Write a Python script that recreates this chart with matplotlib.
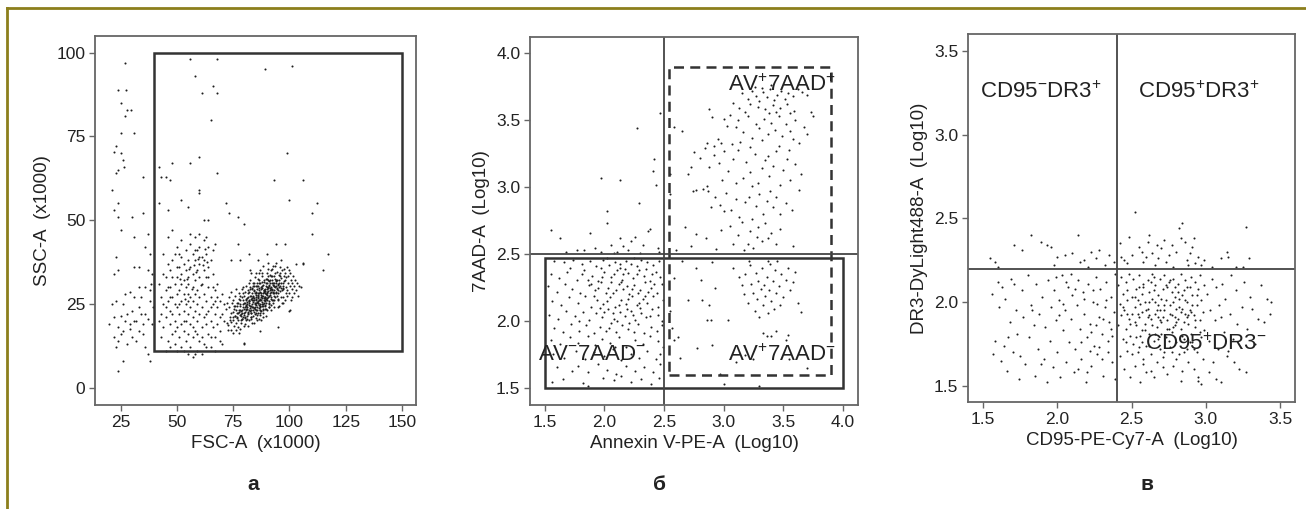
import numpy as np
import matplotlib.pyplot as plt
from matplotlib.patches import Rectangle
from matplotlib.lines import Line2D

plt.rcParams["font.family"] = ["Liberation Sans", "DejaVu Sans"]
plt.rcParams["mathtext.fontset"] = "custom"
plt.rcParams["mathtext.rm"] = "Liberation Sans"
plt.rcParams["mathtext.it"] = "Liberation Sans"

# ---------------- panel a : FSC-A vs SSC-A (x1000) ----------------
a_debris = [(27,97),(24,89),(27.5,89),(25,85),(28,83),(29.5,83),(27,81),(31,76),(25,76),(23,72),
            (25,70),(22,70.5),(26,68),(26.5,66),(24,65),(23,64),(35,63),(21,59),(24,55),(22,53),
            (30,51),(35,52),(37,46),(25,47),(24,51),(31,45),(36,42),(38,40),(23,39),(24,35),
            (22,34),(31,36),(33,36),(37,35),(39,34),(36,30),(38,29),(27,28),(29,28.5),(31,27),
            (34,27),(23,26),(26,25),(33,24),(30,23),(28,22),(36,22),(22,21),(25,21.5),(27,20),
            (31,20),(37,20.5),(39,19),(20,19),(24,18),(26,17),(29,17.5),(33,17),(35,16),(25,16),
            (22,15),(24,14),(30,15),(32,14),(28,13),(23,12),(36,12),(26,8),(38,8),(37,10),
            (24,5),(35,19),(38,26),(34,22),(21,25),(29,19),(32,20),(39.5,24),(38.5,31),(33,30)]

a_left = [(42,31),(43,27),(43,22),(44,25),(44,18),(45,29),(45,33),(45,21),(46,26),(46,14),
          (46,37),(47,23),(47,30),(47,19),(47,35),(48,27),(48,16),(48,38),(48,22),(49,31),
          (49,25),(49,13),(49,20),(50,28),(50,33),(50,18),(50,24),(50,11),(51,36),(51,29),
          (51,22),(51,15),(52,26),(52,31),(52,19),(52,34),(52,12),(53,28),(53,23),(53,37),
          (53,17),(53,32),(54,30),(54,25),(54,20),(54,35),(54,14),(55,33),(55,28),(55,22),
          (55,38),(55,16),(55,31),(56,27),(56,36),(56,24),(56,19),(56,12),(57,34),(57,30),
          (57,26),(57,40),(57,21),(57,15),(58,32),(58,38),(58,28),(58,23),(58,17),(58,10),
          (59,35),(59,41),(59,29),(59,25),(59,20),(60,37),(60,33),(60,27),(60,22),(60,14),
          (60,42),(61,39),(61,31),(61,24),(61,18),(62,44),(62,35),(62,28),(62,21),(62,13),
          (63,40),(63,33),(63,26),(63,19),(64,42),(64,36),(64,30),(64,23),(64,16),(65,38),
          (65,27),(65,20),(65,12),(66,34),(66,25),(66,18),(67,43),(67,29),(67,22),(67,15),
          (68,31),(68,24),(68,19),(69,26),(69,17),(70,22),(70,28),(70,13),(71,20),(71,25),
          (44,40),(46,45),(48,47),(50,42),(52,44),(56,46),(58,45),(60,46),(63,45),(66,41),
          (43,15),(45,11),(47,12),(49,40),(51,40),(53,11),(55,10),(57,9),(59,11),(61,10),
          (63,12),(65,15),(67,11),(69,14),(42,20),(44,34),(46,30),(48,33),(50,36),(52,39),
          (54,41),(56,43),(58,41),(60,39),(62,38),(64,33),(66,30),(68,27),(45,24),(47,27),
          (49,17),(51,25),(53,20),(55,26),(57,18),(59,16),(61,15),(63,22),(65,24),(67,26),
          (69,21),(54.5,32.5),(56.5,29.5),(58.5,34.5),(60.5,30.5),(61.5,36.5),(59.5,38.5),
          (57.5,36.5),(55.5,35.5),(53.5,26.5),(51.5,32.5),(63.5,37.5),(62.5,41.5)]

a_main = [(72.3,19.2),(71.8,23.4),(72.6,17.1),(72.1,25.3),
          (73.4,21.2),(72.9,18.6),(73.2,24.1),(73.7,20.3),(73.0,27.2),
          (74.2,22.4),(73.8,19.5),(74.5,25.2),(74.1,17.3),(74.7,21.1),(73.9,28.4),
          (75.1,22.5),(74.8,20.2),(75.4,24.3),(75.2,18.4),(74.9,26.1),(75.6,21.3),(75.3,23.5),(75.0,16.2),
          (76.2,23.1),(75.8,21.4),(76.5,25.2),(76.1,19.3),(75.9,27.4),(76.6,22.2),(76.3,17.1),(76.0,24.4),(76.4,29.3),
          (77.3,22.2),(76.8,24.3),(77.1,20.1),(77.6,26.4),(77.0,18.2),(77.4,23.3),(76.9,21.1),(77.7,28.2),(77.2,25.4),(77.5,16.3),
          (78.1,23.2),(77.8,25.1),(78.4,21.3),(78.2,27.4),(78.6,19.2),(77.9,24.3),(78.3,22.1),(78.7,29.4),(78.0,26.2),(78.5,20.3),(78.2,17.4),
          (79.2,24.2),(78.8,22.3),(79.5,26.1),(79.1,20.4),(79.4,28.3),(78.9,23.2),(79.7,25.4),(79.3,21.1),(79.0,27.2),(79.6,18.3),(79.2,30.1),(79.8,13.2),
          (80.1,24.1),(80.5,26.3),(79.9,22.2),(80.3,28.4),(80.7,20.1),(80.2,25.2),(80.6,23.4),(80.0,27.3),(80.4,21.2),(80.8,30.4),(80.1,19.1),(80.6,24.8),
          (81.2,25.1),(80.9,23.3),(81.5,27.2),(81.1,21.4),(81.7,29.1),(81.3,24.2),(80.9,26.4),(81.6,22.3),(81.4,28.2),(81.0,20.4),(81.8,31.2),(81.2,25.7),(81.5,18.3),
          (82.1,25.2),(82.5,27.4),(81.9,23.1),(82.3,29.3),(82.7,21.2),(82.0,26.1),(82.6,24.3),(82.2,28.4),(82.8,22.2),(82.4,30.1),(81.9,20.3),(82.5,32.2),(82.1,25.8),(82.3,35.1),
          (83.2,26.2),(82.9,24.4),(83.5,28.1),(83.1,22.3),(83.7,30.2),(83.3,25.1),(82.9,27.3),(83.6,23.2),(83.4,29.4),(83.0,21.1),(83.8,31.3),(83.2,26.7),(83.5,19.2),(83.1,34.1),
          (84.1,26.1),(84.5,28.3),(83.9,24.2),(84.3,30.4),(84.7,22.1),(84.0,27.2),(84.6,25.3),(84.2,29.1),(84.8,23.4),(84.4,31.2),(83.9,21.3),(84.5,33.1),(84.1,26.8),(84.3,19.4),
          (85.2,27.1),(84.9,25.2),(85.5,29.4),(85.1,23.3),(85.7,31.1),(85.3,26.2),(84.9,28.3),(85.6,24.1),(85.4,30.2),(85.0,22.4),(85.8,32.3),(85.2,27.7),(85.5,20.2),(85.1,34.3),(85.7,25.6),
          (86.1,27.3),(86.5,29.1),(85.9,25.4),(86.3,31.2),(86.7,23.1),(86.0,28.2),(86.6,26.3),(86.2,30.4),(86.8,24.2),(86.4,32.1),(85.9,22.3),(86.5,34.2),(86.1,27.8),(86.3,20.4),(86.7,26.6),
          (87.2,27.2),(86.9,25.1),(87.5,29.3),(87.1,23.2),(87.7,31.4),(87.3,26.1),(86.9,28.4),(87.6,24.3),(87.4,30.1),(87.0,22.2),(87.8,33.3),(87.2,27.6),(87.5,20.1),(87.1,35.2),(87.7,25.7),
          (88.1,28.1),(88.5,26.2),(87.9,30.3),(88.3,24.4),(88.7,32.1),(88.0,27.3),(88.6,29.2),(88.2,25.1),(88.8,31.4),(88.4,23.3),(87.9,34.2),(88.5,28.7),(88.1,21.1),(88.3,36.2),(88.7,26.8),
          (89.2,28.3),(88.9,26.1),(89.5,30.2),(89.1,24.3),(89.7,32.4),(89.3,27.1),(88.9,29.3),(89.6,25.2),(89.4,31.1),(89.0,23.4),(89.8,34.1),(89.2,28.8),(89.5,21.3),(89.1,26.7),
          (90.1,28.2),(90.5,30.1),(89.9,26.3),(90.3,32.2),(90.7,24.1),(90.0,29.4),(90.6,27.2),(90.2,31.3),(90.8,25.4),(90.4,33.2),(89.9,23.1),(90.5,35.3),(90.1,28.6),(90.3,37.1),
          (91.2,29.1),(90.9,27.3),(91.5,31.2),(91.1,25.1),(91.7,33.4),(91.3,28.2),(90.9,30.3),(91.6,26.4),(91.4,32.1),(91.0,24.2),(91.8,35.1),(91.2,29.7),
          (92.1,29.3),(92.5,31.1),(91.9,27.2),(92.3,33.3),(92.7,25.2),(92.0,30.1),(92.6,28.4),(92.2,32.2),(92.8,26.1),(92.4,35.4),(91.9,23.3),(92.5,36.2),
          (93.2,30.2),(92.9,28.1),(93.5,32.4),(93.1,26.3),(93.7,34.1),(93.3,29.2),(92.9,31.3),(93.6,27.1),(93.4,36.3),(93.0,24.2),
          (94.1,30.3),(94.5,32.1),(93.9,28.2),(94.3,34.4),(94.7,26.2),(94.0,31.1),(94.6,29.3),(94.2,37.2),(94.8,24.1),
          (95.2,30.1),(94.9,28.3),(95.5,32.2),(95.1,26.4),(95.7,34.2),(95.3,31.3),(94.9,29.1),(95.6,36.1),(95.4,24.3),
          (96.1,31.2),(96.5,29.1),(95.9,33.3),(96.3,27.2),(96.7,35.1),(96.0,30.4),(96.6,25.2),(96.2,38.1),
          (97.2,31.1),(96.9,29.3),(97.5,33.2),(97.1,27.1),(97.7,35.3),(97.3,30.2),(96.9,25.4),
          (98.1,32.2),(98.5,30.1),(97.9,34.3),(98.3,28.2),(98.7,36.1),(98.0,26.3),
          (99.2,31.3),(98.9,29.1),(99.5,33.2),(99.1,27.4),(99.7,35.2),
          (100.1,30.2),(100.5,32.1),(99.9,28.3),(100.3,34.2),(100.7,26.1),(100.2,23.2),
          (101.2,31.1),(100.9,29.3),(101.5,33.2),(101.1,27.2),
          (102.1,30.3),(102.5,32.2),(101.9,28.1),
          (103.2,31.2),(102.8,29.1),(104.1,30.2),(103.7,27.3),(105.8,37.2),(104.9,30.1)]

a_core = [(80.4,22.7),(81.3,23.6),(81.9,24.8),(82.6,22.9),(83.3,24.1),(83.8,25.6),(84.4,23.7),(84.9,26.4),
          (85.3,24.6),(85.8,27.1),(86.2,25.3),(86.6,23.8),(87.1,26.2),(87.4,28.1),(87.9,24.9),(88.3,27.4),
          (88.6,29.2),(89.1,25.8),(89.4,27.9),(89.8,30.1),(90.2,26.7),(90.6,28.8),(91.1,30.6),(91.4,27.6),
          (91.9,29.4),(92.3,31.3),(92.8,28.3),(93.3,30.2),(93.8,32.1),(94.4,29.6),(79.6,21.6),(80.8,24.3),
          (81.6,21.9),(82.2,25.9),(83.1,23.1),(83.6,27.3),(84.1,22.6),(84.7,25.1),(85.1,28.6),(85.6,23.3),
          (86.1,26.9),(86.5,29.7),(86.9,24.4),(87.6,26.8),(88.1,23.6),(88.8,28.6),(89.3,24.7),(89.7,26.5),
          (90.4,29.8),(90.9,25.9),(91.7,28.4),(92.1,26.3),(92.6,30.7),(93.1,27.5),(93.6,29.9),(94.1,31.7),
          (95.1,30.6),(95.8,28.7),(96.4,32.6),(97.2,29.8),(78.6,22.8),(79.3,24.9),(80.2,20.7),(81.1,26.7),
          (82.8,26.6),(84.3,28.8),(85.4,21.6),(86.8,31.1),(88.4,30.6),(89.9,32.4),(91.3,33.6),(87.3,22.9),
          (86.3,24.6),(85.9,25.8),(84.6,24.2),(88.9,27.2),(90.1,27.8),(92.4,29.1),(93.9,28.6),(83.9,26.1),
          (82.4,23.8),(81.7,22.7),(79.9,23.4),(77.9,21.7),(78.8,20.6),(76.7,20.8),(77.6,22.7),(94.8,30.9),
          (96.1,29.6),(95.5,33.7),(97.6,31.8),(98.4,33.1),(88.7,25.3),(87.8,29.6),(86.4,28.3),(85.2,30.3),
          (83.4,29.7),(89.6,23.6),(90.7,31.9),(91.8,24.7),(92.9,33.4),(94.6,27.4),(84.9,20.9),(82.9,20.4),
          (86.7,21.7),(88.2,22.4)]

a_sparse = [(56,98),(68,98),(58,93),(89,95),(101,96),(61,88),(66,90),(68,88),(65,80),(60,69),
            (99,70),(56,67),(68,64),(48,67),(42,66),(43,63),(45,63),(47,62),(106,62),(93,62),
            (60,58),(60,59),(52,56),(42,55),(46,53),(55,54),(72,55),(100,56),(112,55),(62,50),
            (64,50),(77,51),(73,52),(80,49),(110,52),(110,46),(117,40),(115,35),(94,43),(98,43),
            (77,43),(82,40),(90,40),(74,38),(103,37),(106,37),(80,13),(87,17),(95,18),(100,23),
            (78,38),(86,38)]

# ---------------- panel б : Annexin V vs 7AAD (Log10) ----------------
b_live = [(1.58,2.45),(1.66,2.44),(1.74,2.46),(1.81,2.43),(1.88,2.45),(1.93,2.41),(1.99,2.46),(2.04,2.42),
          (2.09,2.44),(2.13,2.40),(2.18,2.45),(2.22,2.43),(2.27,2.41),(2.31,2.46),(2.36,2.44),(2.41,2.42),
          (2.46,2.45),(1.71,2.40),(2.02,2.47),(2.25,2.47),
          (1.55,2.35),(1.62,2.32),(1.69,2.37),(1.77,2.31),(1.83,2.38),(1.90,2.34),(1.95,2.30),(2.00,2.37),
          (2.06,2.33),(2.11,2.38),(2.15,2.31),(2.20,2.36),(2.24,2.32),(2.29,2.38),(2.33,2.34),(2.38,2.30),
          (2.43,2.37),(2.47,2.33),(1.86,2.31),(2.08,2.35),(2.17,2.39),(2.27,2.35),(2.35,2.39),(1.98,2.33),(2.40,2.35),
          (1.53,2.26),(1.60,2.22),(1.67,2.28),(1.73,2.24),(1.80,2.21),(1.87,2.27),(1.92,2.23),(1.97,2.29),
          (2.03,2.25),(2.07,2.21),(2.12,2.28),(2.16,2.24),(2.21,2.20),(2.25,2.27),(2.30,2.23),(2.34,2.29),
          (2.39,2.25),(2.44,2.21),(2.48,2.28),(1.95,2.25),(2.10,2.23),(2.19,2.26),(2.28,2.21),(2.37,2.22),(2.14,2.29),(2.01,2.21),
          (1.56,2.15),(1.64,2.12),(1.70,2.18),(1.78,2.14),(1.84,2.19),(1.89,2.11),(1.94,2.16),(1.99,2.13),
          (2.05,2.18),(2.09,2.11),(2.14,2.16),(2.18,2.13),(2.23,2.19),(2.27,2.12),(2.32,2.17),(2.36,2.14),
          (2.41,2.19),(2.45,2.11),(2.49,2.16),(2.02,2.15),(2.20,2.17),(2.30,2.10),(1.91,2.19),(2.12,2.12),
          (1.54,2.05),(1.61,2.02),(1.68,2.08),(1.75,2.04),(1.82,2.07),(1.87,2.01),(1.93,2.06),(1.98,2.03),
          (2.03,2.09),(2.08,2.02),(2.13,2.07),(2.17,2.04),(2.22,2.08),(2.26,2.01),(2.31,2.06),(2.35,2.03),
          (2.40,2.09),(2.45,2.05),(2.48,2.00),(2.00,2.07),(2.11,2.00),(2.24,2.05),(1.79,2.00),
          (1.58,1.95),(1.65,1.92),(1.72,1.98),(1.79,1.93),(1.85,1.97),(1.91,1.91),(1.96,1.96),(2.01,1.93),
          (2.06,1.99),(2.10,1.92),(2.15,1.97),(2.20,1.94),(2.28,1.98),(2.33,1.91),(2.39,1.96),(2.44,1.93),
          (2.48,1.97),(2.04,1.95),(2.25,1.92),
          (1.55,1.86),(1.63,1.83),(1.71,1.88),(1.78,1.84),(1.86,1.89),(1.92,1.82),(1.98,1.87),(2.05,1.84),
          (2.12,1.88),(2.18,1.81),(2.26,1.86),(2.32,1.83),(2.38,1.89),(2.45,1.85),(2.49,1.81),(2.09,1.81),
          (1.57,1.76),(1.66,1.73),(1.76,1.78),(1.84,1.72),(1.91,1.77),(2.00,1.74),(2.07,1.79),(2.14,1.71),
          (2.22,1.76),(2.29,1.73),(2.36,1.78),(2.43,1.72),(2.47,1.76),
          (1.60,1.66),(1.73,1.63),(1.78,1.67),(1.86,1.62),(1.95,1.68),(2.02,1.64),(2.10,1.61),(2.18,1.67),
          (2.26,1.63),(2.33,1.66),(2.41,1.62),(2.47,1.68),
          (1.56,1.55),(1.65,1.57),(1.82,1.54),(1.86,1.52),(1.99,1.58),(2.08,1.56),(2.14,1.59),(2.22,1.55),
          (2.31,1.57),(2.39,1.53),(2.46,1.58),
          (1.97,2.40),(2.06,2.29),(2.16,2.35),(2.23,2.24),(2.34,2.19),(2.19,2.09),(2.07,2.06),(1.96,2.10),
          (2.29,2.14),(2.42,2.28),(2.13,2.43),(1.89,2.28),(2.38,2.04),(2.21,1.99),(1.81,2.35)]

b_upper_left = [(1.55,2.68),(1.63,2.62),(1.77,2.53),(1.88,2.66),(1.92,2.55),(1.97,3.07),(2.02,2.73),(2.02,2.82),
                (2.06,2.57),(2.13,2.62),(2.13,3.05),(2.16,2.56),(2.22,2.60),(2.26,2.63),(2.27,3.44),(2.29,2.88),
                (2.32,2.57),(2.37,2.67),(2.38,2.69),(2.41,3.12),(2.42,3.21),(2.43,3.02),(2.45,2.55),(2.47,3.55),
                (1.68,2.52),(1.97,2.52),(2.08,2.51),(2.30,2.51),(2.46,2.52),(1.83,2.53),(2.11,2.52),(2.20,2.53)]

b_late = [(3.15,3.70),(3.20,3.66),(3.24,3.72),(3.27,3.68),(3.30,3.64),(3.33,3.71),(3.36,3.67),(3.39,3.73),
          (3.42,3.65),(3.45,3.69),(3.48,3.72),(3.51,3.66),(3.54,3.70),(3.58,3.68),(3.62,3.73),(3.66,3.71),
          (3.70,3.69),(3.22,3.62),(3.29,3.60),(3.35,3.58),(3.41,3.61),(3.47,3.59),(3.53,3.62),(3.59,3.57),
          (3.13,3.59),(3.08,3.63),(3.18,3.56),(3.38,3.55),(3.44,3.56),(3.56,3.55),(3.73,3.56),(3.32,3.74),
          (3.26,3.75),(3.40,3.76),
          (2.88,3.58),(2.90,3.52),(3.00,3.51),(3.05,3.54),(3.03,3.46),(3.10,3.45),(3.12,3.50),(3.16,3.41),
          (3.20,3.53),(3.24,3.37),(3.27,3.47),(3.30,3.44),(3.34,3.51),(3.37,3.40),(3.40,3.48),(3.43,3.43),
          (3.46,3.53),(3.49,3.38),(3.52,3.47),(3.56,3.42),(3.60,3.50),(3.63,3.33),(3.67,3.45),(3.70,3.40),
          (2.95,3.36),(2.92,3.31),(2.98,3.33),(3.07,3.32),(3.14,3.34),(3.22,3.30),(3.32,3.35),(3.46,3.31),
          (3.58,3.36),(2.58,3.45),(2.65,3.42),(2.86,3.33),(3.75,3.53),
          (2.75,3.26),(2.80,3.22),(2.84,3.29),(2.88,3.15),(2.92,3.24),(2.96,3.18),(3.00,3.27),(3.04,3.12),
          (3.08,3.21),(3.12,3.28),(3.16,3.07),(3.19,3.19),(3.22,3.11),(3.26,3.25),(3.29,3.03),(3.32,3.14),
          (3.35,3.20),(3.38,3.08),(3.41,3.16),(3.44,3.27),(3.47,3.02),(3.50,3.13),(3.53,3.21),(3.56,3.05),
          (3.60,3.17),(3.65,3.10),(2.70,3.10),(2.73,3.15),(2.86,3.01),(2.99,3.05),(3.10,3.03),(3.24,3.01),
          (3.37,3.23),(3.55,3.28),(2.55,3.10),
          (2.74,2.97),(2.77,2.98),(2.83,2.99),(2.87,2.97),(2.93,2.93),(2.97,2.87),(3.02,2.96),(3.06,2.83),
          (3.10,2.91),(3.13,2.78),(3.18,2.89),(3.21,2.93),(3.24,2.76),(3.27,2.86),(3.30,2.95),(3.33,2.80),
          (3.36,2.90),(3.39,2.97),(3.41,2.85),(3.44,2.93),(3.47,2.80),(3.52,2.88),(3.57,2.83),(3.63,2.98),
          (2.89,2.85),(3.00,2.82),(2.55,2.95),
          (2.68,2.70),(2.77,2.65),(2.85,2.62),(2.94,2.54),(2.98,2.68),(3.05,2.71),(3.08,2.58),(3.12,2.64),
          (3.17,2.53),(3.22,2.67),(3.25,2.55),(3.29,2.70),(3.32,2.60),(3.35,2.73),(3.37,2.62),(3.40,2.66),
          (3.44,2.58),(3.47,2.69),(3.58,2.56),(3.15,2.74),(3.28,2.63),(3.20,2.58),(2.60,2.53),(2.73,2.56)]

b_early = [(2.55,2.08),(2.57,1.95),(2.58,1.86),(2.62,1.88),(2.63,1.73),(2.58,2.32),(2.70,2.16),(2.77,2.40),
           (2.81,2.31),(2.82,2.16),(2.88,2.12),(2.89,2.01),(2.86,2.01),(2.93,2.25),(3.04,2.01),(3.08,2.40),
           (3.13,2.33),(3.15,2.27),(3.17,2.20),(3.18,2.35),(3.20,2.14),(3.22,2.42),(3.23,2.28),(3.25,2.21),
           (3.26,2.08),(3.27,2.36),(3.28,2.17),(3.29,2.30),(3.30,2.03),(3.31,2.24),(3.32,2.40),(3.33,2.12),
           (3.34,2.27),(3.35,2.19),(3.36,2.33),(3.37,2.06),(3.38,2.23),(3.39,2.43),(3.40,2.15),(3.41,2.30),
           (3.42,2.09),(3.43,2.38),(3.44,2.21),(3.45,2.45),(3.46,2.26),(3.47,2.12),(3.48,2.35),(3.50,2.18),
           (3.52,2.31),(3.54,2.40),(3.56,2.23),(3.58,2.29),(3.60,2.37),(3.62,2.14),(3.65,2.07),(3.40,1.89),
           (3.36,1.89),(3.44,1.93),(3.33,1.91),(3.52,1.86),(3.54,1.90),(3.18,1.75),(3.25,1.72),(3.10,1.70),
           (2.90,1.82),(2.97,1.61),(3.00,1.53),(2.78,1.80),(3.30,1.52),(3.55,1.72),(3.70,1.65),(3.37,2.45),
           (3.21,2.45),(2.65,2.45),(2.90,2.44)]

# ---------------- panel в : CD95 vs DR3 (Log10) ----------------
c_upper = [(1.55,2.26),(1.58,2.24),(1.60,2.21),(1.71,2.34),(1.76,2.31),(1.82,2.40),(1.89,2.36),(1.93,2.34),
           (1.96,2.33),(1.98,2.22),(2.00,2.27),(2.05,2.28),(2.10,2.29),(2.14,2.40),(2.15,2.24),(2.18,2.25),
           (2.21,2.21),(2.23,2.30),(2.26,2.26),(2.28,2.31),(2.32,2.22),(2.35,2.28),(2.38,2.24),(2.43,2.27),
           (2.45,2.25),(2.47,2.23),(2.50,2.28),(2.52,2.54),(2.55,2.33),(2.57,2.30),(2.58,2.24),(2.61,2.36),
           (2.62,2.40),(2.64,2.29),(2.66,2.22),(2.68,2.26),(2.70,2.32),(2.72,2.37),(2.73,2.24),(2.75,2.28),
           (2.77,2.34),(2.78,2.21),(2.80,2.30),(2.82,2.44),(2.83,2.38),(2.84,2.47),(2.86,2.36),(2.87,2.25),
           (2.89,2.29),(2.91,2.33),(2.93,2.23),(2.95,2.27),(2.97,2.22),(2.99,2.25),(3.04,2.21),(3.10,2.26),
           (3.14,2.30),(3.15,2.27),(3.20,2.21),(3.25,2.21),(3.27,2.45),(3.29,2.26),(2.48,2.39),(2.60,2.27),
           (2.88,2.22),(2.42,2.35),(2.67,2.34),(2.92,2.38)]

c_neg = [(1.56,2.05),(1.58,1.77),(1.60,2.12),(1.61,1.97),(1.62,1.65),(1.63,2.09),(1.64,1.74),(1.65,2.02),
         (1.66,1.59),(1.68,1.88),(1.69,2.14),(1.70,1.70),(1.72,1.95),(1.73,1.81),(1.74,1.54),(1.76,2.07),
         (1.77,1.91),(1.78,1.63),(1.80,2.16),(1.81,1.79),(1.82,1.98),(1.84,1.86),(1.85,1.56),(1.86,2.11),
         (1.87,1.72),(1.88,1.93),(1.90,2.03),(1.91,1.66),(1.92,1.85),(1.93,1.52),(1.94,2.13),(1.95,1.77),
         (1.96,1.97),(1.97,1.61),(1.98,2.07),(1.99,1.89),(2.00,1.70),(2.01,2.01),(2.02,1.55),(2.03,2.16),
         (2.04,1.83),(2.05,1.95),(2.06,1.64),(2.07,2.09),(2.08,1.76),(2.09,1.90),(2.10,2.04),(2.11,1.58),
         (2.12,1.72),(2.13,1.98),(2.14,2.13),(2.15,1.84),(2.16,1.66),(2.17,2.06),(2.18,1.93),(2.19,1.52),
         (2.20,1.79),(2.21,2.11),(2.22,1.87),(2.23,1.62),(2.24,2.00),(2.25,1.74),(2.26,2.15),(2.27,1.69),
         (2.28,1.91),(2.29,2.08),(2.30,1.81),(2.31,1.56),(2.32,1.97),(2.33,2.12),(2.34,1.77),(2.35,1.88),
         (2.36,2.03),(2.37,1.64),(2.38,1.94),(2.39,2.17),(2.39,1.54),(2.36,1.84),(2.28,1.73),(2.22,1.71),
         (2.16,1.76),(2.26,1.86),(2.31,1.90),(2.18,2.02),(2.12,2.08),(2.06,2.12),(2.24,2.07),(2.33,2.01),
         (1.99,2.15),(2.09,2.17),(1.67,1.79),(1.75,1.68),(2.01,1.92),(2.27,1.99),(2.34,1.70),(1.89,1.63),
         (2.14,1.60),(2.20,1.58),(2.04,1.99),(1.71,2.11),(1.57,1.69),(2.37,1.80),(2.30,1.66),(2.23,1.82),(1.83,1.95)]

c_pos = [(2.41,2.10),(2.41,1.86),(2.42,1.99),(2.42,1.68),(2.43,2.15),(2.43,1.92),(2.44,1.78),(2.44,2.05),
         (2.45,1.60),(2.45,1.95),(2.46,2.12),(2.46,1.84),(2.47,2.01),(2.47,1.71),(2.48,1.90),(2.48,2.17),
         (2.49,1.80),(2.49,1.55),(2.50,2.03),(2.50,1.93),
         (2.51,2.14),(2.51,1.75),(2.52,1.97),(2.52,1.62),(2.53,2.08),(2.53,1.86),(2.54,1.70),(2.54,2.01),
         (2.55,1.91),(2.55,2.16),(2.56,1.80),(2.56,1.52),(2.57,2.05),(2.57,1.94),(2.58,1.66),(2.58,2.11),
         (2.59,1.87),(2.59,2.00),(2.60,1.74),(2.60,1.58),(2.55,2.09),(2.57,1.83),
         (2.61,2.13),(2.61,1.96),(2.62,1.81),(2.62,2.06),(2.63,1.69),(2.63,1.90),(2.64,2.17),(2.64,2.02),
         (2.65,1.77),(2.65,1.55),(2.66,1.93),(2.66,2.10),(2.67,1.85),(2.67,1.64),(2.68,2.04),(2.68,1.98),
         (2.69,1.72),(2.69,2.14),(2.70,1.88),(2.70,1.81),(2.63,1.59),(2.66,2.00),(2.69,1.95),(2.62,1.92),
         (2.71,2.08),(2.71,1.67),(2.72,1.95),(2.72,2.16),(2.73,1.79),(2.73,2.01),(2.74,1.89),(2.74,1.57),
         (2.75,2.12),(2.75,1.84),(2.76,1.98),(2.76,1.73),(2.77,2.06),(2.77,1.92),(2.78,1.62),(2.78,2.14),
         (2.79,1.86),(2.79,2.03),(2.80,1.76),(2.80,1.96),(2.74,2.09),(2.77,1.82),(2.72,1.70),(2.79,1.91),
         (2.81,2.11),(2.81,1.90),(2.82,1.69),(2.82,2.02),(2.83,1.84),(2.83,2.17),(2.84,1.96),(2.84,1.59),
         (2.85,2.07),(2.85,1.78),(2.86,1.93),(2.86,2.13),(2.87,1.72),(2.87,2.00),(2.88,1.87),(2.88,1.64),
         (2.89,2.09),(2.89,1.95),(2.90,1.81),(2.90,2.15),(2.84,2.04),(2.87,1.91),(2.83,1.53),
         (2.91,2.04),(2.91,1.76),(2.92,1.92),(2.92,1.60),(2.93,2.12),(2.93,1.85),(2.94,1.98),(2.94,1.70),
         (2.95,2.08),(2.95,1.53),(2.96,1.89),(2.96,2.16),(2.97,1.79),(2.97,2.01),(2.98,1.66),(2.98,1.94),
         (2.99,2.10),(2.99,1.83),(2.97,1.51),(2.95,1.55),
         (3.01,2.05),(3.02,1.77),(3.03,1.95),(3.04,2.14),(3.05,1.64),(3.06,1.89),(3.07,2.09),(3.08,1.72),
         (3.09,1.98),(3.10,1.52),(3.11,2.11),(3.12,1.82),(3.13,2.02),(3.14,1.68),(3.16,1.93),(3.17,2.16),
         (3.18,1.78),(3.20,2.07),(3.21,1.87),(3.22,1.60),(3.24,1.97),(3.26,2.12),(3.27,1.58),(3.28,1.84),
         (3.30,2.03),(3.31,1.96),(3.33,1.75),(3.35,1.90),(3.37,2.10),(3.39,1.88),(3.41,2.02),(3.43,1.93),
         (3.44,2.00),(3.10,1.91),(3.15,1.71),(3.02,1.58),(3.07,1.54),(3.19,1.64)]

c_core = [(2.44,1.97),(2.47,2.07),(2.49,1.87),(2.52,2.03),(2.53,1.79),(2.56,1.99),(2.58,2.09),(2.59,1.83),
          (2.61,1.91),(2.62,2.00),(2.64,1.86),(2.65,2.07),(2.67,1.95),(2.68,1.78),(2.70,2.02),(2.71,1.91),
          (2.73,2.10),(2.74,1.84),(2.76,1.93),(2.77,1.70),(2.78,2.00),(2.80,1.88),(2.81,2.06),(2.83,1.94),
          (2.84,1.80),(2.86,2.01),(2.88,1.92),(2.89,1.76),(2.91,1.98),(2.93,1.89),(2.46,1.76),(2.50,1.69),
          (2.55,1.73),(2.60,1.95),(2.63,2.12),(2.66,1.81),(2.69,1.89),(2.72,1.98),(2.75,1.77),(2.78,1.85),
          (2.82,1.97),(2.85,1.88),(2.87,2.09),(2.90,1.94),(2.94,2.04),(2.96,1.82),(2.54,1.93),(2.57,1.76),
          (2.62,1.74),(2.68,1.91),(2.71,1.61),(2.76,2.13),(2.80,1.66),(2.85,1.70),(2.92,1.72),(2.58,1.63),
          (2.52,1.88),(2.47,1.93),(2.65,2.15),(2.79,2.09)]

panel_letters = ["а", "б", "в"]

DOT = dict(s=2.2, c="#1e1e1e", linewidths=0, marker="o")
GATE = "#333333"


def scatter_groups(ax, groups):
    for g in groups:
        xy = np.array(g, dtype=float)
        ax.scatter(xy[:, 0], xy[:, 1], **DOT)


def style(ax, xlim, ylim, xt, yt, xlab, ylab, fmt):
    ax.set_xlim(*xlim)
    ax.set_ylim(*ylim)
    ax.set_xticks(xt)
    ax.set_yticks(yt)
    ax.set_xticklabels([fmt.format(v) for v in xt])
    ax.set_yticklabels([fmt.format(v) for v in yt])
    ax.set_xlabel(xlab, fontsize=13.5, color="#222", labelpad=4)
    ax.set_ylabel(ylab, fontsize=13.5, color="#222", labelpad=4)
    for sp in ax.spines.values():
        sp.set_color("#666666")
        sp.set_linewidth(1.3)
    ax.tick_params(direction="out", length=4, width=1, color="#666666",
                   labelsize=12.5, labelcolor="#222", pad=3)


fig = plt.figure(figsize=(13.06, 5.09), dpi=100)
W, H = 1306, 509

# panel a
ax1 = fig.add_axes([95 / W, 104 / H, 321 / W, 369 / H])
scatter_groups(ax1, [a_debris, a_left, a_main, a_core, a_sparse])
ax1.add_patch(Rectangle((40, 11), 110, 89, fill=False, ec=GATE, lw=1.8))
style(ax1, (13.6, 156.2), (-5.2, 105), [25, 50, 75, 100, 125, 150], [0, 25, 50, 75, 100],
      "FSC-A  (x1000)", "SSC-A  (x1000)", "{:g}")

# panel б
ax2 = fig.add_axes([530 / W, 104 / H, 328 / W, 368 / H])
scatter_groups(ax2, [b_live, b_upper_left, b_late, b_early])
ax2.axvline(2.5, color="#444", lw=1.3)
ax2.axhline(2.5, color="#444", lw=1.3)
ax2.add_patch(Rectangle((1.5, 1.5), 2.5, 0.97, fill=False, ec=GATE, lw=1.8))
ax2.add_patch(Rectangle((2.54, 1.6), 1.36, 2.3, fill=False, ec=GATE, lw=1.8, ls=(0, (4, 2.5))))
b_ticks = [1.5, 2.0, 2.5, 3.0, 3.5, 4.0]
style(ax2, (1.377, 4.126), (1.376, 4.12), b_ticks, b_ticks,
      "Annexin V-PE-A  (Log10)", "7AAD-A  (Log10)", "{:.1f}")
ax2.text(3.49, 3.76, "AV$^{+}$7AAD$^{+}$", fontsize=16, ha="center", va="center", color="#222")
ax2.text(1.90, 1.75, "AV$^{-}$7AAD$^{-}$", fontsize=16, ha="center", va="center", color="#222")
ax2.text(3.49, 1.75, "AV$^{+}$7AAD$^{-}$", fontsize=16, ha="center", va="center", color="#222")

# panel в
ax3 = fig.add_axes([968 / W, 107 / H, 327 / W, 368 / H])
scatter_groups(ax3, [c_upper, c_neg, c_pos, c_core])
ax3.axvline(2.4, color="#444", lw=1.3)
ax3.axhline(2.2, color="#444", lw=1.3)
c_ticks = [1.5, 2.0, 2.5, 3.0, 3.5]
style(ax3, (1.399, 3.6), (1.403, 3.6), c_ticks, c_ticks,
      "CD95-PE-Cy7-A  (Log10)", "DR3-DyLight488-A  (Log10)", "{:.1f}")
ax3.text(1.89, 3.25, "CD95$^{-}$DR3$^{+}$", fontsize=16, ha="center", va="center", color="#222")
ax3.text(2.955, 3.25, "CD95$^{+}$DR3$^{+}$", fontsize=16, ha="center", va="center", color="#222")
ax3.text(3.0, 1.75, "CD95$^{+}$DR3$^{-}$", fontsize=16, ha="center", va="center", color="#222")

# panel letters
for px, letter in zip([253, 660, 1147], panel_letters):
    fig.text(px / W, 1 - 484 / H, letter, fontsize=15, fontweight="bold",
             ha="center", va="center", color="#222")

# olive frame (top and left edges only)
olive = "#8c7f1c"
fig.add_artist(Line2D([7 / W, 1], [1 - 8 / H, 1 - 8 / H], color=olive, lw=2))
fig.add_artist(Line2D([7 / W, 7 / W], [0, 1 - 8 / H], color=olive, lw=2))

fig.savefig("out.png", dpi=100)
